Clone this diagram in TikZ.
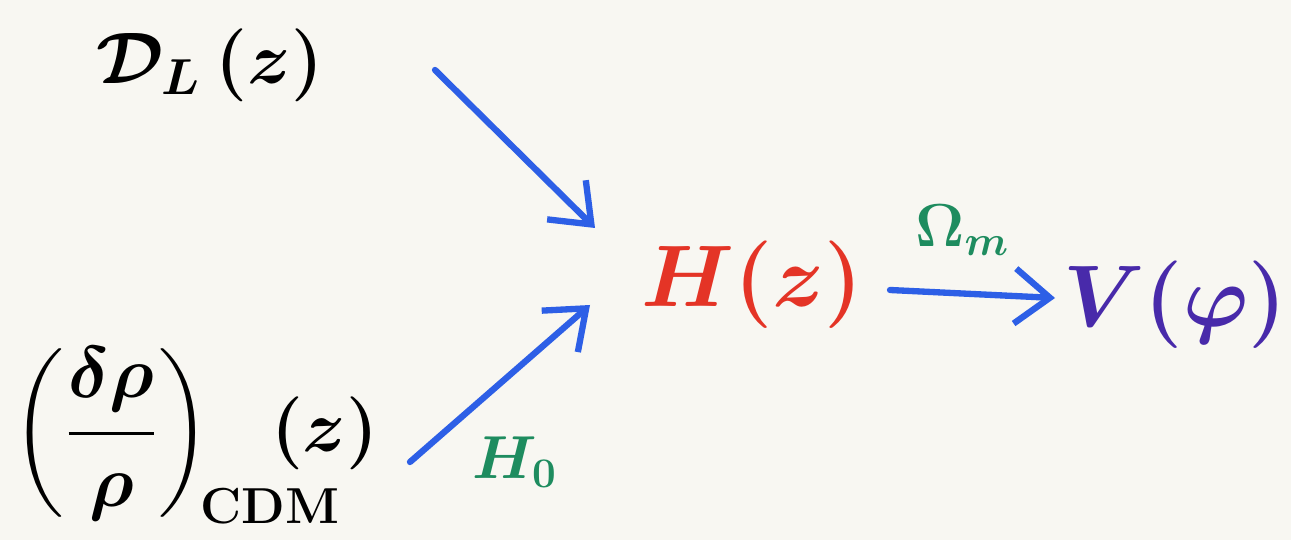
\documentclass[tikz,border=0pt]{standalone}
\usepackage{amsmath,amssymb}
\usepackage{xcolor}
\usetikzlibrary{arrows.meta, positioning, calc}

\definecolor{paper}{RGB}{248,247,242}
\definecolor{markblue}{RGB}{45,95,230}
\definecolor{markred}{RGB}{228,52,38}
\definecolor{markgreen}{RGB}{30,140,95}
\definecolor{markviolet}{RGB}{72,42,170}

\begin{document}
\begin{tikzpicture}[
    every node/.style={inner sep=0pt},
    term/.style={font=\fontsize{20}{24}\selectfont\boldmath},
    big/.style={font=\fontsize{26}{31}\selectfont\boldmath},
    lab/.style={font=\fontsize{17}{20}\selectfont\boldmath, text=markgreen},
    flow/.style={draw=markblue, line width=1.8pt, line cap=round, -{Straight Barb[length=3.5mm, width=5.5mm, line width=1.8pt]}}
]
    % Paper
    \useasboundingbox (0,0) rectangle (12.91,5.40);
    \fill[paper] (0,0) rectangle (12.91,5.40);

    % Inputs
    \node[term] (dl) at (2.10,4.75) {$\mathcal{D}_L\,(z)$};
    \node[term, anchor=west] (cdm) at (0.12,1.05) {$\displaystyle\left(\frac{\delta\rho}{\rho}\right)_{\!\rlap{$\scriptstyle\mathrm{CDM}$}}\hspace{0.55cm}(z)$};

    % Hubble rate and potential
    \node[big, text=markred] (hz) at (7.52,2.55) {$H(z)$};
    \node[big, text=markviolet] (vphi) at (11.75,2.35) {$V(\varphi)$};

    % Arrow ends
    \coordinate (dl-out) at (4.35,4.70);
    \coordinate (hz-in1) at (5.95,3.12);
    \coordinate (cdm-out) at (4.10,0.78);
    \coordinate (hz-in2) at (5.90,2.35);
    \coordinate (hz-out) at (8.90,2.50);
    \coordinate (vphi-in) at (10.55,2.42);

    \draw[flow] (dl-out) -- (hz-in1);
    \draw[flow] (cdm-out) -- (hz-in2);
    \draw[flow] (hz-out) -- (vphi-in) node[lab, midway, above=0.35cm, xshift=-0.1cm] (om) {$\Omega_m$};

    \node[lab] (h0) at (5.15,0.78) {$H_0$};
\end{tikzpicture}
\end{document}
